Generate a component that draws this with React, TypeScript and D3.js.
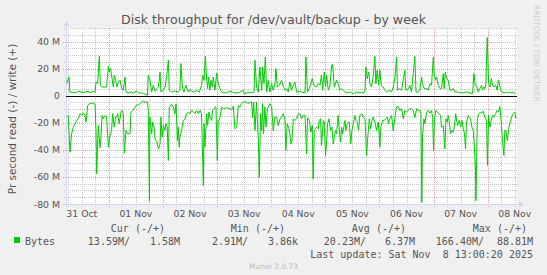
import React from 'react';
import * as d3 from 'd3';

const W = 547;
const H = 275;

// hours since Oct 31 05:00, value in MB/s (write, positive)
const writeData: [number, number][] = [
  [0.3, 8.9], [1.33, 13.8], [1.77, 2.7], [3.25, 2.2], [4.73, 2.5], [6.2, 3.5], [6.5, 2.5], [8.4, 2.5], [9.9, 3.5], [10.3, 2.2],
  [12.1, 3.2], [12.9, 2.7], [13.3, 10.1], [14.0, 8.9], [14.8, 29.1], [15.2, 7.7], [16.1, 6.4], [18.0, 6.4], [18.8, 21.7], [19.2, 17.5],
  [19.8, 20.0], [20.2, 15.1], [21.0, 6.4], [21.4, 15.1], [22.0, 11.4], [22.5, 6.4], [23.2, 10.1], [24.0, 11.4], [24.7, 5.2], [25.4, 4.0],
  [26.2, 13.8], [26.6, 2.7], [27.6, 2.0], [29.1, 2.7], [29.9, 2.0], [31.3, 3.5], [32.1, 2.0], [33.5, 2.0], [34.3, 1.5], [35.5, 1.0],
  [36.1, 0.2], [36.5, 15.1], [37.2, 11.4], [38.0, 2.7], [38.7, 7.7], [39.5, 3.2], [40.2, 5.2], [41.0, 6.4], [41.7, 17.5], [42.1, 2.7],
  [43.2, 4.4], [43.9, 6.4], [44.6, 13.8], [45.4, 26.2], [45.8, 4.0], [46.8, 2.7], [48.3, 3.5], [49.8, 2.7], [50.5, 4.0], [51.0, 23.7],
  [51.6, 6.4], [52.3, 2.7], [53.2, 7.7], [54.2, 2.7], [55.0, 4.4], [56.5, 2.7], [58.0, 4.0], [59.1, 2.7], [60.1, 7.7], [60.6, 15.1],
  [61.2, 11.4], [61.8, 29.1], [62.4, 11.4], [62.8, 5.2], [63.2, 13.8], [63.8, 4.0], [64.3, 11.4], [64.9, 6.4], [65.3, 13.8], [66.1, 4.0],
  [66.8, 16.8], [67.4, 10.1], [68.0, 6.4], [69.0, 2.7], [69.8, 2.2], [71.2, 2.2], [73.0, 3.5], [74.2, 2.2], [76.4, 2.0], [78.6, 4.0],
  [79.1, 1.0], [80.1, 2.2], [82.3, 2.2], [83.4, 2.7], [83.8, 26.2], [84.5, 6.4], [85.3, 2.7], [86.0, 21.2], [86.8, 4.0], [87.2, 21.2],
  [87.8, 8.9], [88.4, 28.6], [89.0, 2.7], [89.7, 11.4], [90.4, 2.7], [91.2, 8.9], [91.9, 4.0], [92.7, 8.9], [93.1, 20.0], [93.7, 6.4],
  [94.6, 7.7], [95.6, 11.4], [96.4, 6.4], [97.1, 4.0], [97.8, 5.2], [98.6, 2.7], [99.3, 10.1], [100.0, 4.0], [100.8, 7.7], [101.5, 10.1],
  [102.3, 2.7], [103.7, 3.2], [104.5, 2.7], [106.0, 2.0], [106.4, 28.6], [107.1, 2.7], [108.2, 6.4], [109.2, 12.6], [109.9, 7.7], [111.1, 6.4],
  [111.9, 8.9], [112.6, 7.7], [113.3, 15.1], [113.8, 4.0], [114.5, 17.5], [115.1, 6.4], [115.6, 15.1], [116.3, 4.0], [117.0, 6.4], [117.8, 22.5],
  [118.2, 23.2], [119.0, 6.4], [120.0, 11.4], [120.7, 8.9], [121.5, 4.0], [122.2, 5.2], [122.9, 4.0], [123.7, 2.7], [124.4, 2.0], [125.9, 2.7],
  [127.4, 1.5], [128.9, 2.7], [130.3, 2.0], [131.1, 2.7], [131.8, 1.5], [132.6, 4.0], [133.0, 21.2], [133.6, 12.6], [134.2, 17.5], [134.8, 8.9],
  [135.5, 6.4], [136.2, 13.8], [137.0, 29.1], [137.4, 8.9], [138.0, 18.8], [138.6, 7.7], [139.2, 18.8], [139.8, 7.7], [140.7, 6.4], [141.4, 4.0],
  [142.2, 2.7], [143.6, 4.0], [144.4, 2.7], [145.1, 6.4], [145.9, 13.8], [146.6, 28.6], [147.0, 4.0], [148.1, 5.2], [148.8, 4.0], [149.6, 12.6],
  [150.3, 18.8], [150.7, 4.0], [151.8, 5.2], [152.5, 7.7], [153.2, 2.7], [154.0, 16.3], [154.7, 29.1], [155.2, 2.7], [156.2, 2.7], [156.9, 4.0],
  [157.7, 13.8], [158.1, 8.9], [158.9, 5.2], [159.9, 5.2], [160.6, 4.0], [161.4, 8.9], [162.1, 7.7], [162.9, 28.6], [163.3, 15.1], [163.9, 11.4],
  [164.3, 13.8], [165.1, 7.7], [165.8, 5.2], [166.5, 5.2], [167.3, 16.3], [167.7, 5.2], [168.2, 17.5], [168.8, 12.6], [169.5, 11.4], [170.2, 4.0],
  [171.0, 4.0], [171.7, 5.2], [172.5, 2.7], [173.9, 2.7], [175.4, 2.0], [177.6, 2.7], [179.1, 2.0], [180.3, 1.5], [180.9, 16.3], [181.5, 7.7],
  [182.1, 7.7], [182.8, 2.7], [183.5, 5.2], [184.3, 7.7], [184.7, 4.0], [185.3, 6.4], [185.8, 5.2], [186.2, 8.9], [186.8, 43.0], [187.4, 8.9],
  [188.0, 6.4], [188.6, 12.6], [189.2, 7.7], [189.7, 6.4], [190.6, 7.7], [191.2, 4.0], [191.7, 11.4], [192.1, 10.1], [192.7, 4.0], [193.4, 2.7],
  [194.6, 2.0], [195.4, 2.7], [196.1, 2.0], [196.8, 2.7], [197.6, 2.0], [198.3, 2.7], [199.1, 1.5],
];

// hours since Oct 31 05:00, value in MB/s (read, drawn negative)
const readData: [number, number][] = [
  [0.3, -15.3], [1.0, -14.6], [1.77, -41.7], [2.5, -28.1], [3.25, -23.2], [4.0, -20.7], [4.7, -18.3], [5.5, -17.0], [6.2, -13.3], [7.0, -14.6],
  [7.7, -12.8], [8.4, -14.6], [8.9, -19.5], [9.6, -7.2], [10.6, -5.9], [12.1, -5.4], [12.9, -6.4], [13.3, -25.7], [13.6, -57.8], [14.3, -22.0],
  [15.1, -38.5], [15.5, -30.6], [16.0, -14.6], [16.5, -17.0], [17.3, -14.6], [18.0, -15.3], [18.8, -38.0], [19.5, -29.4], [20.2, -25.7], [20.7, -13.3],
  [21.4, -23.2], [22.0, -15.8], [22.5, -15.8], [22.9, -13.3], [23.6, -20.7], [24.4, -12.1], [24.8, -10.9], [25.4, -13.3], [25.9, -42.5], [26.6, -25.7],
  [27.3, -28.1], [28.4, -28.1], [28.8, -12.1], [29.6, -10.9], [30.6, -8.4], [31.3, -7.2], [32.5, -6.4], [33.5, -4.7], [34.3, -4.0], [35.0, -4.7],
  [36.1, -4.7], [36.5, -10.9], [37.0, -78.0], [37.2, -15.8], [38.0, -28.1], [38.4, -19.5], [39.2, -24.4], [39.5, -31.9], [40.2, -33.1], [41.0, -39.3],
  [41.7, -35.6], [42.1, -15.8], [42.6, -30.6], [43.2, -22.0], [43.9, -25.7], [44.3, -20.7], [44.9, -23.2], [45.4, -47.9], [45.8, -8.4], [46.8, -6.4],
  [47.6, -8.4], [48.3, -13.3], [48.8, -5.9], [49.4, -33.1], [49.8, -23.2], [50.2, -38.0], [50.5, -30.6], [51.3, -25.7], [52.0, -18.3], [52.8, -17.0],
  [53.5, -13.3], [54.2, -12.1], [55.0, -13.3], [55.7, -10.9], [56.5, -12.1], [57.2, -13.3], [58.0, -10.9], [58.7, -13.3], [59.4, -10.9], [60.1, -13.3],
  [60.9, -66.4], [61.2, -20.7], [61.6, -38.0], [62.4, -13.3], [62.8, -22.0], [63.4, -12.1], [63.8, -15.8], [64.6, -18.3], [65.0, -10.9], [65.6, -9.6],
  [66.1, -8.4], [66.5, -8.4], [67.1, -47.9], [67.5, -19.5], [68.3, -15.8], [69.0, -8.4], [69.8, -9.6], [71.2, -8.9], [72.7, -9.6], [73.4, -10.4],
  [74.2, -7.9], [74.9, -24.4], [75.7, -23.2], [76.4, -7.2], [77.1, -8.4], [77.9, -5.9], [78.6, -4.7], [80.1, -4.7], [80.8, -5.9], [81.6, -4.7],
  [82.3, -4.7], [82.8, -16.3], [83.2, -4.7], [83.8, -25.7], [84.5, -4.7], [85.3, -33.1], [85.7, -60.2], [86.3, -13.3], [86.8, -25.7], [87.2, -5.9],
  [87.6, -28.1], [88.2, -8.4], [88.7, -23.2], [89.3, -9.6], [89.7, -8.4], [90.4, -5.9], [91.2, -8.4], [91.9, -25.7], [92.7, -15.8], [93.4, -15.8],
  [94.1, -22.0], [94.9, -17.0], [95.6, -16.3], [96.4, -13.3], [97.1, -18.3], [97.5, -40.5], [98.1, -20.7], [98.7, -23.2], [99.3, -28.1], [99.7, -35.6],
  [100.2, -33.1], [100.8, -17.0], [101.5, -18.3], [102.3, -17.0], [103.0, -13.3], [103.7, -13.3], [104.5, -17.0], [105.2, -14.6], [106.0, -14.6], [106.7, -43.0],
  [107.1, -16.3], [107.9, -18.3], [108.6, -26.9], [109.2, -22.0], [109.6, -61.5], [110.1, -25.7], [110.7, -24.4], [111.1, -23.2], [111.9, -24.4], [112.3, -18.3],
  [112.9, -17.0], [113.3, -36.8], [114.1, -18.3], [114.5, -19.5], [115.1, -44.2], [115.6, -33.1], [116.0, -20.7], [116.7, -17.0], [117.3, -25.7], [117.9, -23.2],
  [118.5, -35.6], [119.0, -30.6], [119.5, -25.7], [120.0, -28.1], [120.7, -14.6], [121.2, -25.7], [121.8, -34.3], [122.2, -23.2], [122.7, -28.1], [123.2, -23.2],
  [123.7, -18.3], [124.1, -25.7], [124.7, -20.7], [125.6, -19.5], [126.3, -35.6], [126.8, -25.7], [127.4, -20.7], [128.1, -14.6], [128.6, -18.3], [129.2, -19.5],
  [129.7, -25.7], [130.3, -14.6], [131.1, -13.3], [131.8, -15.8], [132.6, -17.0], [133.3, -44.2], [133.7, -33.1], [134.5, -17.0], [135.1, -24.4], [135.7, -18.3],
  [136.2, -15.8], [137.0, -19.5], [137.7, -25.7], [138.5, -19.5], [139.2, -38.0], [139.6, -23.2], [140.4, -18.3], [141.1, -18.3], [141.7, -17.0], [142.5, -15.8],
  [143.0, -20.7], [143.6, -17.0], [144.4, -14.6], [145.1, -25.7], [145.9, -15.8], [146.6, -8.4], [147.3, -7.9], [148.1, -10.9], [148.8, -9.6], [149.6, -17.0],
  [150.3, -10.9], [151.0, -12.1], [151.8, -10.4], [152.5, -9.6], [153.2, -9.6], [154.0, -10.9], [154.7, -16.3], [155.5, -9.6], [156.2, -10.9], [156.9, -10.9],
  [157.4, -13.3], [157.8, -78.8], [158.1, -30.6], [158.7, -17.0], [159.2, -20.7], [159.9, -12.1], [160.6, -10.9], [161.4, -12.8], [162.1, -10.9], [162.6, -16.3],
  [163.0, -40.5], [163.4, -17.0], [164.0, -10.9], [164.6, -12.1], [165.5, -13.3], [166.1, -14.6], [166.5, -23.2], [167.3, -22.0], [168.0, -39.3], [168.5, -17.0],
  [169.1, -19.5], [169.5, -14.6], [169.9, -18.3], [170.5, -28.1], [171.1, -25.7], [171.7, -26.9], [172.2, -23.2], [172.8, -13.3], [173.6, -22.0], [174.4, -18.3],
  [175.0, -23.2], [175.6, -18.3], [176.2, -24.4], [176.7, -28.1], [177.2, -39.3], [177.6, -19.5], [178.4, -14.6], [178.8, -15.8], [179.4, -17.0], [180.0, -23.2],
  [180.6, -25.7], [181.0, -35.6], [181.5, -50.4], [181.8, -77.5], [182.4, -17.0], [183.1, -13.3], [183.8, -12.1], [184.4, -12.8], [185.0, -11.4], [185.8, -15.8],
  [186.5, -18.3], [186.9, -51.6], [187.4, -14.6], [188.0, -23.2], [188.6, -18.3], [189.2, -14.6], [189.7, -15.8], [190.5, -13.3], [191.2, -10.9], [191.8, -12.1],
  [192.4, -7.9], [193.0, -19.5], [193.6, -34.3], [194.2, -44.2], [194.6, -25.7], [195.1, -25.7], [195.7, -33.1], [196.3, -24.4], [196.8, -20.7], [197.6, -15.8],
  [198.3, -13.3], [199.1, -12.1], [199.5, -17.0],
];

const dayLabels = ['31 Oct', '01 Nov', '02 Nov', '03 Nov', '04 Nov', '05 Nov', '06 Nov', '07 Nov', '08 Nov'];
const yTicks = [40, 20, 0, -20, -40, -60, -80];
const legendHeaders = ['Cur (-/+)', 'Min (-/+)', 'Avg (-/+)', 'Max (-/+)'];
const legendRead = ['13.59M/', '2.91M/', '20.23M/', '166.40M/'];
const legendWrite = ['1.58M', '3.86k', '6.37M', '88.81M'];

const HOURS = 200;
const START_MS = Date.UTC(2025, 9, 31, 5, 0, 0);
const toDate = (h: number) => new Date(START_MS + h * 3600e3);

const L = 66, R = 517, T = 28, B = 204;
const GREEN = '#00CC00';
const FONT = 'DejaVu Sans, sans-serif';
const MONO = 'DejaVu Sans Mono, monospace';
const GRID = '#C6C6C6';
const MGRID = '#EC9A9A';

// build a path of 1x1 dots along a vertical or horizontal line
function vDots(xp: number, y0: number, y1: number): string {
  let s = '';
  for (let yy = y0; yy <= y1; yy += 2) s += `M${xp},${yy}h1v1h-1z`;
  return s;
}
function hDots(yp: number, x0: number, x1: number): string {
  let s = '';
  for (let xx = x0; xx <= x1; xx += 2) s += `M${xx},${yp}h1v1h-1z`;
  return s;
}

export default function App() {
  const x = d3.scaleUtc().domain([toDate(0), toDate(HOURS)]).range([L, R]);
  const y = d3.scaleLinear().domain([-80, 50]).range([B, T]);
  const pi = (v: number) => Math.round(v);
  const px = (v: number) => Math.round(v) + 0.5;

  const allHours = d3.utcHour.every(6)!.range(toDate(0), toDate(HOURS));
  const minorX = allHours.filter(d => d.getUTCHours() !== 0);
  const majorX = allHours.filter(d => d.getUTCHours() === 0);
  const minorY = d3.range(-75, 51, 5).filter(v => v % 20 !== 0);
  const majorY = [-60, -40, -20, 20, 40];
  const labelDays = d3.utcDay.range(d3.utcDay.floor(toDate(0)), toDate(HOURS)).map(d => d3.utcHour.offset(d, 12));

  const line = d3.line<[number, number]>().x(d => x(toDate(d[0]))).y(d => y(d[1]));

  const minorPath =
    minorX.map(d => vDots(pi(x(d)), T, B + 2)).join('') +
    minorY.map(v => hDots(pi(y(v)), L - 2, R - 1)).join('');
  const majorPath =
    majorX.map(d => vDots(pi(x(d)), T, B + 3)).join('') +
    majorY.map(v => hDots(pi(y(v)), L - 3, R - 1)).join('');

  const headerEnds = [165, 285, 406, 527];
  const readEnds = [130, 248, 366, 484];
  const writeEnds = [180, 298, 415, 533];

  return (
    <svg width={W} height={H} style={{ position: 'absolute', left: 0, top: 0, display: 'block' }}>
      <rect x={0} y={0} width={W} height={H} fill="#F0F0F0" />
      <rect x={L} y={T} width={R - L} height={B - T} fill="#FFFFFF" />
      <text x={273.5} y={24} textAnchor="middle" fontFamily={FONT} fontSize={12.6} fill="#555">
        Disk throughput for /dev/vault/backup - by week
      </text>
      <text transform="translate(533.5,5) rotate(90)" fontFamily={FONT} fontSize={7.5} fill="#CCCCCC">
        RRDTOOL / TOBI OETIKER
      </text>
      {/* grid */}
      <path d={minorPath} fill={GRID} shapeRendering="crispEdges" />
      <path d={majorPath} fill={MGRID} shapeRendering="crispEdges" />
      {/* axes */}
      <g stroke="#CFD6F8" strokeWidth={1} shapeRendering="crispEdges">
        <line x1={px(L)} x2={px(L)} y1={B + 3} y2={T - 4} />
        <line x1={L - 3} x2={R + 3} y1={px(B)} y2={px(B)} />
      </g>
      <path d={`M${px(L) - 3},${T - 2} L${px(L) + 3},${T - 2} L${px(L)},${T - 7} Z`} fill="#CFD6F8" />
      <path d={`M${R + 2},${px(B) - 3} L${R + 2},${px(B) + 3} L${R + 7},${px(B)} Z`} fill="#CFD6F8" />
      {/* y labels */}
      {yTicks.map(v => (
        <text key={'yl' + v} x={60} y={y(v) + 3.5} textAnchor="end" fontFamily={FONT} fontSize={9.3} fill="#555">
          {v === 0 ? '0' : `${v} M`}
        </text>
      ))}
      {/* x labels */}
      {labelDays.map((d, i) => (
        <text key={'xl' + i} x={x(d)} y={217} textAnchor="middle" fontFamily={FONT} fontSize={9.3} fill="#555">
          {dayLabels[i]}
        </text>
      ))}
      <text transform="translate(15.5,119) rotate(-90)" textAnchor="middle" fontFamily={FONT} fontSize={10.5} fill="#555">
        Pr second read (-) / write (+)
      </text>
      {/* data */}
      <path d={line(writeData) || ''} fill="none" stroke={GREEN} strokeWidth={1} />
      <path d={line(readData) || ''} fill="none" stroke={GREEN} strokeWidth={1} />
      <line x1={L} x2={R} y1={px(y(0))} y2={px(y(0))} stroke="#000" strokeWidth={1} shapeRendering="crispEdges" />
      {/* legend */}
      {legendHeaders.map((t, i) => (
        <text key={'lh' + i} x={headerEnds[i]} y={232} textAnchor="end" fontFamily={MONO} fontSize={10} fill="#555" style={{ whiteSpace: 'pre' }}>
          {t}
        </text>
      ))}
      <rect x={14} y={237} width={6} height={6} fill={GREEN} />
      <text x={25} y={245} fontFamily={MONO} fontSize={10} fill="#555">Bytes</text>
      {legendRead.map((t, i) => (
        <text key={'lr' + i} x={readEnds[i]} y={245} textAnchor="end" fontFamily={MONO} fontSize={10} fill="#555">{t}</text>
      ))}
      {legendWrite.map((t, i) => (
        <text key={'lw' + i} x={writeEnds[i]} y={245} textAnchor="end" fontFamily={MONO} fontSize={10} fill="#555">{t}</text>
      ))}
      <text x={533} y={258} textAnchor="end" fontFamily={MONO} fontSize={10} fill="#555" style={{ whiteSpace: 'pre' }}>
        {'Last update: Sat Nov  8 13:00:20 2025'}
      </text>
      <text x={273.5} y={269} textAnchor="middle" fontFamily={FONT} fontSize={7.5} fill="#BBBBBB">
        Munin 2.0.73
      </text>
    </svg>
  );
}
